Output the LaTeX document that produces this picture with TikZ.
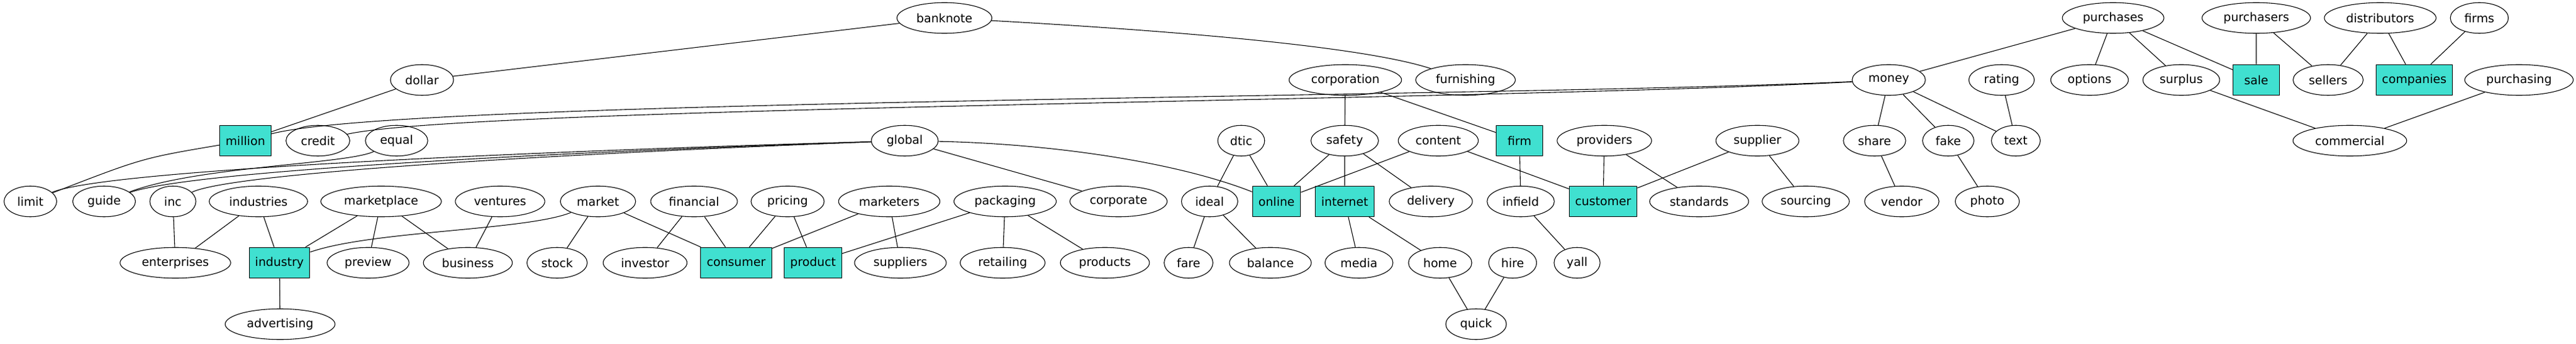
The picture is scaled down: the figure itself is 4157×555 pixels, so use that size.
\documentclass[tikz,border=0pt]{standalone}
\usepackage{fontspec}
\setmainfont{DejaVu Sans}
\usetikzlibrary{shapes.geometric}
\definecolor{turq}{HTML}{40E0D0}

\begin{document}
\begin{tikzpicture}[x=0.7273bp, y=-0.7273bp, line width=0.8bp,
		word/.style={draw, ellipse, inner xsep=6.5bp, inner ysep=2bp, minimum width=54bp, minimum height=36bp, font=\fontsize{14}{16}\selectfont},
		key/.style={draw, rectangle, fill=turq, inner xsep=7bp, minimum width=54bp, minimum height=36bp, font=\fontsize{14}{16}\selectfont}]
		\useasboundingbox (0,0) rectangle (4157,555);
		% first rank
		\node[word] (banknote) at (1524,29) {banknote};
		\node[word] (purchases) at (3410,29) {purchases};
		\node[word] (purchasers) at (3641,29) {purchasers};
		\node[word] (distributors) at (3841,29) {distributors};
		\node[word] (firms) at (4001,29) {firms};
		% second rank
		\node[word] (dollar) at (681,129) {dollar};
		\node[word] (corporation) at (2171,129) {corporation};
		\node[word] (furnishing) at (2365,129) {furnishing};
		\node[word] (money) at (3048,129) {money};
		\node[word] (rating) at (3230,129) {rating};
		\node[word] (options) at (3372,129) {options};
		\node[word] (surplus) at (3520,129) {surplus};
		\node[key] (sale) at (3641,129) {sale};
		\node[word] (sellers) at (3757,129) {sellers};
		\node[key] (companies) at (3896,129) {companies};
		\node[word] (purchasing) at (4065,129) {purchasing};
		% third rank
		\node[key] (million) at (396,227) {million};
		\node[word] (credit) at (513,227) {credit};
		\node[word] (equal) at (640,227) {equal};
		\node[word] (global) at (1460,227) {global};
		\node[word] (dtic) at (2003,227) {dtic};
		\node[word] (safety) at (2170,227) {safety};
		\node[word] (content) at (2321,227) {content};
		\node[key] (firm) at (2452,227) {firm};
		\node[word] (providers) at (2589,227) {providers};
		\node[word] (supplier) at (2836,227) {supplier};
		\node[word] (share) at (3025,227) {share};
		\node[word] (fake) at (3144,227) {fake};
		\node[word] (text) at (3253,227) {text};
		\node[word] (commercial) at (3792,227) {commercial};
		% fourth rank
		\node[word] (limit) at (49,325) {limit};
		\node[word] (guide) at (168,325) {guide};
		\node[word] (inc) at (279,325) {inc};
		\node[word] (industries) at (417,325) {industries};
		\node[word] (marketplace) at (615,325) {marketplace};
		\node[word] (ventures) at (807,325) {ventures};
		\node[word] (market) at (965,325) {market};
		\node[word] (financial) at (1120,325) {financial};
		\node[word] (pricing) at (1271,325) {pricing};
		\node[word] (marketers) at (1435,325) {marketers};
		\node[word] (packaging) at (1622,325) {packaging};
		\node[word] (corporate) at (1805,325) {corporate};
		\node[word] (ideal) at (1952,325) {ideal};
		\node[key] (online) at (2060,325) {online};
		\node[key] (internet) at (2170,325) {internet};
		\node[word] (delivery) at (2309,325) {delivery};
		\node[word] (infield) at (2454,325) {infield};
		\node[key] (customer) at (2587,325) {customer};
		\node[word] (standards) at (2742,325) {standards};
		\node[word] (sourcing) at (2914,325) {sourcing};
		\node[word] (vendor) at (3069,325) {vendor};
		\node[word] (photo) at (3207,325) {photo};
		% fifth rank
		\node[word] (enterprises) at (283,424) {enterprises};
		\node[key] (industry) at (451,424) {industry};
		\node[word] (preview) at (594,424) {preview};
		\node[word] (business) at (755,424) {business};
		\node[word] (stock) at (899,424) {stock};
		\node[word] (investor) at (1041,424) {investor};
		\node[key] (consumer) at (1188,424) {consumer};
		\node[key] (product) at (1312,424) {product};
		\node[word] (suppliers) at (1453,424) {suppliers};
		\node[word] (retailing) at (1618,424) {retailing};
		\node[word] (products) at (1783,424) {products};
		\node[word] (fare) at (1918,424) {fare};
		\node[word] (balance) at (2050,424) {balance};
		\node[word] (media) at (2193,424) {media};
		\node[word] (home) at (2324,424) {home};
		\node[word] (hire) at (2441,424) {hire};
		\node[word] (yall) at (2545,424) {yall};
		% last rank
		\node[word] (advertising) at (452,523) {advertising};
		\node[word] (quick) at (2382,523) {quick};
		% edges of the first rank
		\draw (banknote) -- (dollar);
		\draw (banknote) .. controls (1900,50) and (2200,75) .. (furnishing);
		\draw (purchases) -- (money) (purchases) -- (options) (purchases) -- (surplus) (purchases) -- (sale);
		\draw (purchasers) -- (sale) (purchasers) -- (sellers);
		\draw (distributors) -- (sellers) (distributors) -- (companies);
		\draw (firms) -- (companies);
		% edges of the second rank
		\draw (dollar) -- (million);
		\draw (money) .. controls (2400,158) and (650,160) .. (million);
		\draw (money) .. controls (2400,163) and (760,172) .. (credit);
		\draw (money) -- (share) (money) -- (fake) (money) -- (text);
		\draw (corporation) -- (safety) (corporation) -- (firm);
		\draw (rating) -- (text);
		\draw (surplus) -- (commercial);
		\draw (purchasing) -- (commercial);
		% edges of the third rank
		\draw (million) .. controls (230,255) .. (limit);
		\draw (equal) .. controls (560,265) and (320,268) .. (guide);
		\draw (global) .. controls (1000,240) and (180,270) .. (limit);
		\draw (global) .. controls (1000,242) and (320,272) .. (guide);
		\draw (global) .. controls (1000,244) and (380,276) .. (inc);
		\draw (global) -- (corporate);
		\draw (global) .. controls (1700,232) and (1900,262) .. (online);
		\draw (dtic) -- (ideal) (dtic) -- (online);
		\draw (safety) -- (online) (safety) -- (internet) (safety) -- (delivery);
		\draw (content) -- (online) (content) -- (customer);
		\draw (firm) -- (infield);
		\draw (providers) -- (customer) (providers) -- (standards);
		\draw (supplier) -- (customer) (supplier) -- (sourcing);
		\draw (share) -- (vendor);
		\draw (fake) -- (photo);
		% edges of the fourth rank
		\draw (inc) -- (enterprises);
		\draw (industries) -- (enterprises) (industries) -- (industry);
		\draw (marketplace) -- (industry) (marketplace) -- (preview) (marketplace) -- (business);
		\draw (ventures) -- (business);
		\draw (market) .. controls (850,372) and (600,372) .. (industry);
		\draw (market) -- (stock) (market) -- (consumer);
		\draw (financial) -- (investor) (financial) -- (consumer);
		\draw (pricing) -- (consumer) (pricing) -- (product);
		\draw (marketers) -- (consumer) (marketers) -- (suppliers);
		\draw (packaging) -- (product) (packaging) -- (retailing) (packaging) -- (products);
		\draw (ideal) -- (fare) (ideal) -- (balance);
		\draw (internet) -- (media) (internet) -- (home);
		\draw (infield) -- (yall);
		% edges of the last rank
		\draw (industry) -- (advertising);
		\draw (home) -- (quick) (hire) -- (quick);
	\end{tikzpicture}
\end{document}
